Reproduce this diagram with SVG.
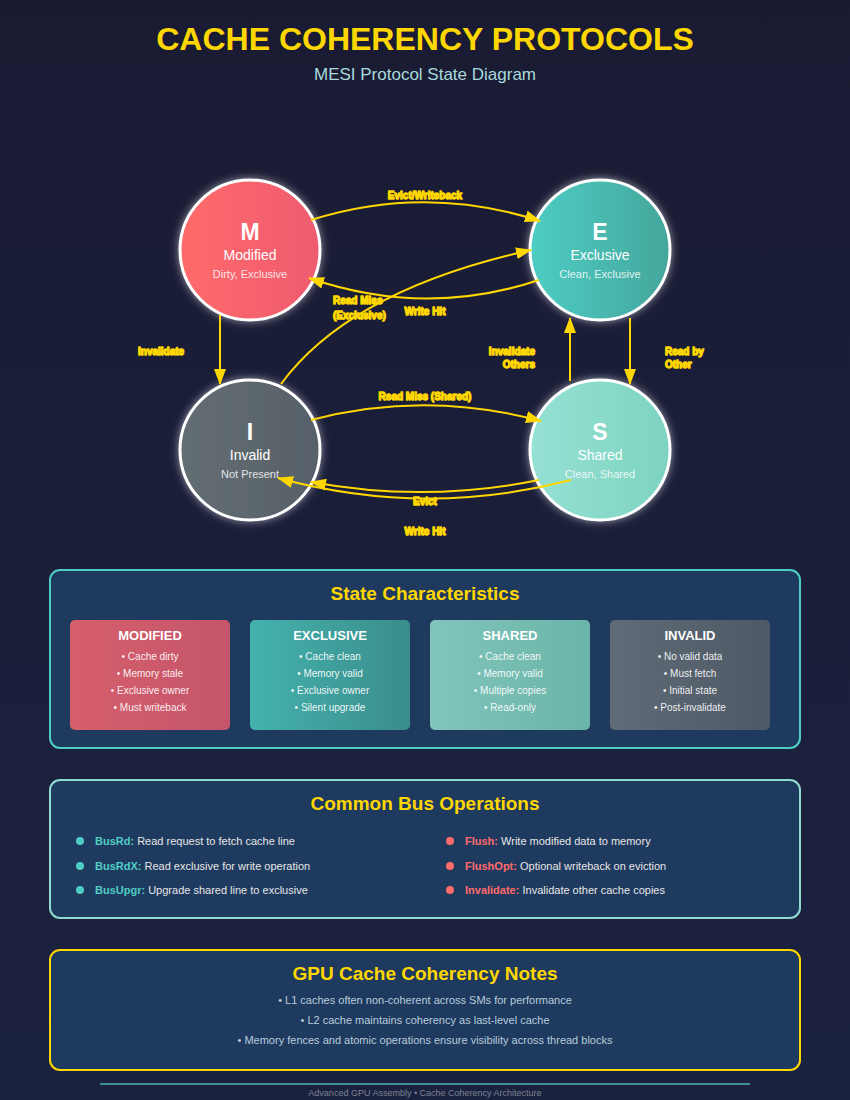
<svg xmlns="http://www.w3.org/2000/svg" width="850" height="1100" viewBox="0 0 850 1100">
  <defs>
    <linearGradient id="bg" x1="0" y1="0" x2="0" y2="1">
      <stop offset="0" stop-color="#1a1b33"/>
      <stop offset="1" stop-color="#1b2240"/>
    </linearGradient>
    <linearGradient id="gM" x1="0" y1="0" x2="1" y2="0">
      <stop offset="0" stop-color="#ff6b6b"/>
      <stop offset="1" stop-color="#ee5a6f"/>
    </linearGradient>
    <linearGradient id="gE" x1="0" y1="0" x2="1" y2="0">
      <stop offset="0" stop-color="#4ecdc4"/>
      <stop offset="1" stop-color="#44a69c"/>
    </linearGradient>
    <linearGradient id="gI" x1="0" y1="0" x2="1" y2="0">
      <stop offset="0" stop-color="#636e72"/>
      <stop offset="1" stop-color="#576069"/>
    </linearGradient>
    <linearGradient id="gS" x1="0" y1="0" x2="1" y2="0">
      <stop offset="0" stop-color="#95e1d3"/>
      <stop offset="1" stop-color="#7dd3c0"/>
    </linearGradient>
    <linearGradient id="cM" x1="0" y1="0" x2="1" y2="0">
      <stop offset="0" stop-color="#d65f6b"/>
      <stop offset="1" stop-color="#c4556b"/>
    </linearGradient>
    <linearGradient id="cE" x1="0" y1="0" x2="1" y2="0">
      <stop offset="0" stop-color="#45b2ad"/>
      <stop offset="1" stop-color="#3a8d8c"/>
    </linearGradient>
    <linearGradient id="cS" x1="0" y1="0" x2="1" y2="0">
      <stop offset="0" stop-color="#81c5bb"/>
      <stop offset="1" stop-color="#6bb4a8"/>
    </linearGradient>
    <linearGradient id="cI" x1="0" y1="0" x2="1" y2="0">
      <stop offset="0" stop-color="#5f6b76"/>
      <stop offset="1" stop-color="#4e5966"/>
    </linearGradient>
    <filter id="glow" x="-30%" y="-30%" width="160%" height="160%">
      <feGaussianBlur in="SourceAlpha" stdDeviation="4" result="b"/>
      <feFlood flood-color="#ffffff" flood-opacity="0.55"/>
      <feComposite in2="b" operator="in" result="g"/>
      <feMerge><feMergeNode in="g"/><feMergeNode in="SourceGraphic"/></feMerge>
    </filter>
    <marker id="arrowL" viewBox="0 0 16 12" refX="15" refY="6" markerWidth="16" markerHeight="12" markerUnits="userSpaceOnUse" orient="auto">
      <path d="M0,0 L16,6 L0,12 z" fill="#ffd700"/>
    </marker>
  </defs>
  <style>
    text { font-family: "Liberation Sans", Arial, sans-serif; }
    .title { font-size: 32px; font-weight: bold; fill: #ffd700; text-anchor: middle; }
    .subtitle { font-size: 17px; fill: #a8dadc; text-anchor: middle; }
    .state { stroke: #ffffff; stroke-width: 3; }
    .letter { font-size: 23px; font-weight: bold; fill: #ffffff; text-anchor: middle; }
    .name { font-size: 14px; fill: #ffffff; text-anchor: middle; }
    .sub { font-size: 11px; fill: #ffffff; fill-opacity: 0.85; text-anchor: middle; }
    .edge { fill: none; stroke: #ffd700; stroke-width: 2; }
    .elabel { font-size: 10px; font-weight: bold; fill: #ffd700; stroke: #ffd700; stroke-width: 1.3; stroke-linejoin: round; }
    .panel { fill: #1f3a5f; stroke-width: 2; }
    .ptitle { font-size: 19px; font-weight: bold; fill: #ffd700; text-anchor: middle; }
    .ctitle { font-size: 13px; font-weight: bold; fill: #ffffff; text-anchor: middle; }
    .citem { font-size: 10px; fill: #ffffff; fill-opacity: 0.92; text-anchor: middle; }
    .opdesc { font-size: 11px; fill: #e6e6e6; }
    .opA { font-weight: bold; fill: #4ecdc4; }
    .opB { font-weight: bold; fill: #ff6b6b; }
    .note { font-size: 11px; fill: #b8ccdc; text-anchor: middle; }
  </style>

  <rect x="0" y="0" width="850" height="1100" fill="url(#bg)"/>

  <!-- heading -->
  <text class="title" x="425" y="50">CACHE COHERENCY PROTOCOLS</text>
  <text class="subtitle" x="425" y="80">MESI Protocol State Diagram</text>

  <!-- MESI states -->
  <g id="state-m">
    <circle class="state" cx="250" cy="250" r="70" fill="url(#gM)" filter="url(#glow)"/>
    <text class="letter" x="250" y="240">M</text>
    <text class="name" x="250" y="260">Modified</text>
    <text class="sub" x="250" y="278">Dirty, Exclusive</text>
  </g>
  <g id="state-e">
    <circle class="state" cx="600" cy="250" r="70" fill="url(#gE)" filter="url(#glow)"/>
    <text class="letter" x="600" y="240">E</text>
    <text class="name" x="600" y="260">Exclusive</text>
    <text class="sub" x="600" y="278">Clean, Exclusive</text>
  </g>
  <g id="state-i">
    <circle class="state" cx="250" cy="450" r="70" fill="url(#gI)" filter="url(#glow)"/>
    <text class="letter" x="250" y="440">I</text>
    <text class="name" x="250" y="460">Invalid</text>
    <text class="sub" x="250" y="478">Not Present</text>
  </g>
  <g id="state-s">
    <circle class="state" cx="600" cy="450" r="70" fill="url(#gS)" filter="url(#glow)"/>
    <text class="letter" x="600" y="440">S</text>
    <text class="name" x="600" y="460">Shared</text>
    <text class="sub" x="600" y="478">Clean, Shared</text>
  </g>

  <!-- transitions -->
  <g id="transitions">
    <path class="edge" d="M311,220 Q425,184 540,221" marker-end="url(#arrowL)"/>
    <path class="edge" d="M539,280 Q425,318 309,278" marker-end="url(#arrowL)"/>
    <path class="edge" d="M281,384 Q350,290 531,250" marker-end="url(#arrowL)"/>
    <path class="edge" d="M220,315 L220,384" marker-end="url(#arrowL)"/>
    <path class="edge" d="M630,318 L630,384" marker-end="url(#arrowL)"/>
    <path class="edge" d="M570,381 L570,318" marker-end="url(#arrowL)"/>
    <path class="edge" d="M311,420 Q425,390 541,421" marker-end="url(#arrowL)"/>
    <path class="edge" d="M539,480 Q425,503 311,482" marker-end="url(#arrowL)"/>
    <path class="edge" d="M571,480 Q425,518 278,478" marker-end="url(#arrowL)"/>

    <text class="elabel" x="425" y="199" text-anchor="middle">Evict/Writeback</text>
    <text class="elabel" x="425" y="315" text-anchor="middle">Write Hit</text>
    <text class="elabel" x="333" y="304">Read Miss</text>
    <text class="elabel" x="333" y="319">(Exclusive)</text>
    <text class="elabel" x="138" y="355">Invalidate</text>
    <text class="elabel" x="535" y="355" text-anchor="end">Invalidate</text>
    <text class="elabel" x="535" y="368" text-anchor="end">Others</text>
    <text class="elabel" x="665" y="355">Read by</text>
    <text class="elabel" x="665" y="368">Other</text>
    <text class="elabel" x="425" y="400" text-anchor="middle">Read Miss (Shared)</text>
    <text class="elabel" x="425" y="505" text-anchor="middle">Evict</text>
    <text class="elabel" x="425" y="535" text-anchor="middle">Write Hit</text>
  </g>

  <!-- state summary panel -->
  <g id="state-characteristics">
    <rect class="panel" x="50" y="570" width="750" height="178" rx="10" stroke="#4ecdc4"/>
    <text class="ptitle" x="425" y="600">State Characteristics</text>

    <rect x="70" y="620" width="160" height="110" rx="5" fill="url(#cM)"/>
    <text class="ctitle" x="150" y="640">MODIFIED</text>
    <text class="citem" x="150" y="660">• Cache dirty</text>
    <text class="citem" x="150" y="677">• Memory stale</text>
    <text class="citem" x="150" y="694">• Exclusive owner</text>
    <text class="citem" x="150" y="711">• Must writeback</text>

    <rect x="250" y="620" width="160" height="110" rx="5" fill="url(#cE)"/>
    <text class="ctitle" x="330" y="640">EXCLUSIVE</text>
    <text class="citem" x="330" y="660">• Cache clean</text>
    <text class="citem" x="330" y="677">• Memory valid</text>
    <text class="citem" x="330" y="694">• Exclusive owner</text>
    <text class="citem" x="330" y="711">• Silent upgrade</text>

    <rect x="430" y="620" width="160" height="110" rx="5" fill="url(#cS)"/>
    <text class="ctitle" x="510" y="640">SHARED</text>
    <text class="citem" x="510" y="660">• Cache clean</text>
    <text class="citem" x="510" y="677">• Memory valid</text>
    <text class="citem" x="510" y="694">• Multiple copies</text>
    <text class="citem" x="510" y="711">• Read-only</text>

    <rect x="610" y="620" width="160" height="110" rx="5" fill="url(#cI)"/>
    <text class="ctitle" x="690" y="640">INVALID</text>
    <text class="citem" x="690" y="660">• No valid data</text>
    <text class="citem" x="690" y="677">• Must fetch</text>
    <text class="citem" x="690" y="694">• Initial state</text>
    <text class="citem" x="690" y="711">• Post-invalidate</text>
  </g>

  <!-- bus operations panel -->
  <g id="bus-operations">
    <rect class="panel" x="50" y="780" width="750" height="138" rx="10" stroke="#8fdccf"/>
    <text class="ptitle" x="425" y="810">Common Bus Operations</text>

    <circle cx="80" cy="841" r="4" fill="#4ecdc4"/>
    <text class="opdesc" x="95" y="845"><tspan class="opA">BusRd:</tspan> Read request to fetch cache line</text>
    <circle cx="80" cy="866" r="4" fill="#4ecdc4"/>
    <text class="opdesc" x="95" y="870"><tspan class="opA">BusRdX:</tspan> Read exclusive for write operation</text>
    <circle cx="80" cy="890" r="4" fill="#4ecdc4"/>
    <text class="opdesc" x="95" y="894"><tspan class="opA">BusUpgr:</tspan> Upgrade shared line to exclusive</text>

    <circle cx="450" cy="841" r="4" fill="#ff6b6b"/>
    <text class="opdesc" x="465" y="845"><tspan class="opB">Flush:</tspan> Write modified data to memory</text>
    <circle cx="450" cy="866" r="4" fill="#ff6b6b"/>
    <text class="opdesc" x="465" y="870"><tspan class="opB">FlushOpt:</tspan> Optional writeback on eviction</text>
    <circle cx="450" cy="890" r="4" fill="#ff6b6b"/>
    <text class="opdesc" x="465" y="894"><tspan class="opB">Invalidate:</tspan> Invalidate other cache copies</text>
  </g>

  <!-- GPU notes panel -->
  <g id="gpu-notes">
    <rect class="panel" x="50" y="950" width="750" height="120" rx="10" stroke="#ffd700"/>
    <text class="ptitle" x="425" y="980">GPU Cache Coherency Notes</text>
    <text class="note" x="425" y="1004">• L1 caches often non-coherent across SMs for performance</text>
    <text class="note" x="425" y="1024">• L2 cache maintains coherency as last-level cache</text>
    <text class="note" x="425" y="1044">• Memory fences and atomic operations ensure visibility across thread blocks</text>
  </g>

  <!-- footer -->
  <g id="footer">
    <line x1="100" y1="1084" x2="750" y2="1084" stroke="#3f8f93" stroke-width="2"/>
    <text x="425" y="1096" font-size="9" fill="#7c8290" text-anchor="middle">Advanced GPU Assembly • Cache Coherency Architecture</text>
  </g>
</svg>
